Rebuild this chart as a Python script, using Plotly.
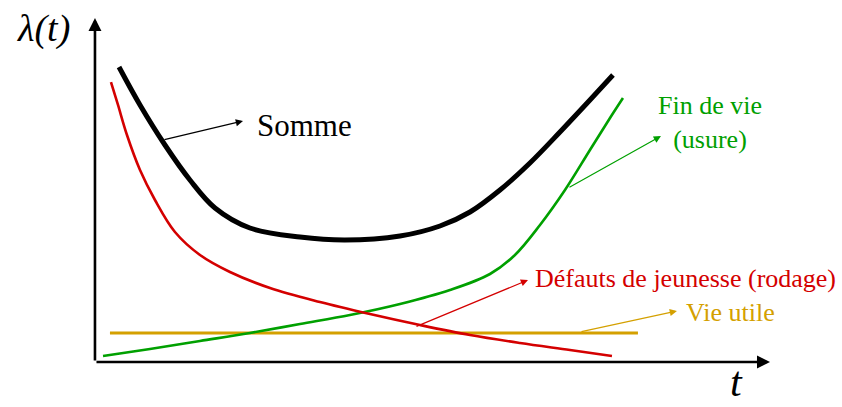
import plotly.graph_objects as go

# Data (t in arbitrary time units, lambda in arbitrary failure-rate units)
somme_t = [0.356, 0.667, 1.037, 1.407, 1.778, 2.296, 3.037, 3.704, 4.519, 5.111, 5.556, 6.0, 6.444, 6.889, 7.333, 7.674]
somme_l = [8.626, 7.515, 6.345, 5.322, 4.503, 3.918, 3.655, 3.567, 3.684, 3.977, 4.386, 5.029, 5.819, 6.725, 7.661, 8.392]

defauts_t = [0.237, 0.341, 0.474, 0.667, 0.889, 1.185, 1.556, 2.0, 2.593, 3.333, 4.074, 4.815, 5.556, 6.296, 7.037, 7.659]
defauts_l = [8.187, 7.515, 6.637, 5.614, 4.737, 3.801, 3.129, 2.632, 2.164, 1.754, 1.404, 1.082, 0.789, 0.556, 0.351, 0.175]

usure_t = [0.119, 0.815, 1.556, 2.296, 3.037, 3.778, 4.519, 5.259, 5.852, 6.222, 6.593, 6.963, 7.333, 7.630, 7.822]
usure_l = [0.175, 0.380, 0.614, 0.848, 1.111, 1.374, 1.696, 2.105, 2.573, 3.129, 4.006, 5.029, 6.199, 7.135, 7.719]

utile_t = [0.222, 8.044]
utile_l = [0.848, 0.848]

labels = ["Somme", "Fin de vie<br>(usure)", "Défauts de jeunesse (rodage)", "Vie utile"]

BLACK = "#000000"
RED = "#D40000"
GREEN = "#00A000"
GOLD = "#D4A000"
SERIF = "Liberation Serif, Times New Roman, serif"

fig = go.Figure()
fig.add_trace(go.Scatter(x=utile_t, y=utile_l, mode="lines", line=dict(color=GOLD, width=3)))
fig.add_trace(go.Scatter(x=usure_t, y=usure_l, mode="lines", line=dict(color=GREEN, width=2.6, shape="spline")))
fig.add_trace(go.Scatter(x=defauts_t, y=defauts_l, mode="lines", line=dict(color=RED, width=2.6, shape="spline")))
fig.add_trace(go.Scatter(x=somme_t, y=somme_l, mode="lines", line=dict(color=BLACK, width=5, shape="spline")))

def arrow(x, y, ax, ay, color, width=1.2, head=2, size=1.2):
    fig.add_annotation(x=x, y=y, ax=ax, ay=ay, xref="x", yref="y", axref="x", ayref="y",
                       text="", showarrow=True, arrowhead=head, arrowsize=size,
                       arrowwidth=width, arrowcolor=color, standoff=0, startstandoff=0)

# axes
arrow(10.0, 0.0, 0.0, 0.0, BLACK, width=2.6, head=2, size=1.0)
arrow(0.0, 10.06, 0.0, 0.0, BLACK, width=2.6, head=2, size=1.0)

# callout arrows
arrow(2.193, 7.047, 1.007, 6.491, BLACK)
arrow(8.385, 6.608, 7.007, 5.088, GREEN)
arrow(6.415, 2.398, 4.741, 1.023, RED)
arrow(8.622, 1.491, 7.185, 0.877, GOLD)

def label(x, y, text, color, size, xanchor="left", yanchor="middle", italic=False):
    fig.add_annotation(x=x, y=y, xref="x", yref="y", text=text, showarrow=False,
                       xanchor=xanchor, yanchor=yanchor, align="center",
                       font=dict(family=SERIF, size=size, color=color,
                                 style="italic" if italic else "normal"))

label(2.37, 6.93, labels[0], BLACK, 31)
label(9.111, 6.99, labels[1], GREEN, 26, xanchor="center")
label(6.489, 2.43, labels[2], RED, 26)
label(8.726, 1.46, labels[3], GOLD, 26)
label(-0.77, 9.76, "λ(t)", BLACK, 38, xanchor="center", italic=True)
label(9.511, -1.31, "t", BLACK, 42, xanchor="center", yanchor="bottom", italic=True)

fig.update_layout(
    width=842, height=407, margin=dict(l=0, r=0, t=0, b=0),
    paper_bgcolor="white", plot_bgcolor="white", showlegend=False,
    font=dict(family=SERIF),
    xaxis=dict(range=[-1.407, 11.067], visible=False, fixedrange=True),
    yaxis=dict(range=[-1.316, 10.585], visible=False, fixedrange=True),
)
fig.write_html("out.html", config={"displayModeBar": False},
               post_script="document.body.style.margin='0';document.body.style.overflow='hidden';")
